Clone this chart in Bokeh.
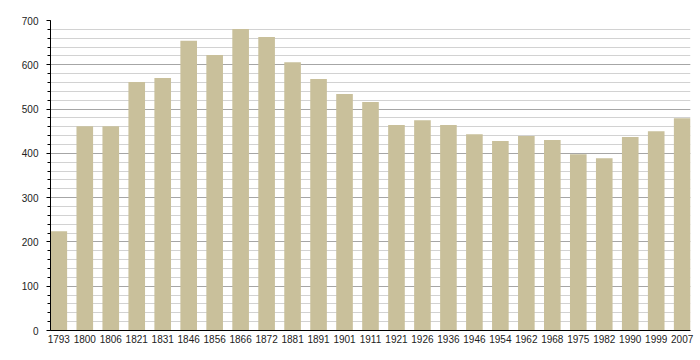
from bokeh.plotting import figure
from bokeh.models import Range1d, FixedTicker, SingleIntervalTicker, ColumnDataSource
from bokeh.embed import file_html
from bokeh.resources import INLINE

years = ["1793", "1800", "1806", "1821", "1831", "1846", "1856", "1866", "1872", "1881",
         "1891", "1901", "1911", "1921", "1926", "1936", "1946", "1954", "1962", "1968",
         "1975", "1982", "1990", "1999", "2007"]
population = [224, 461, 461, 561, 570, 654, 622, 681, 663, 606,
              568, 534, 516, 464, 475, 464, 443, 428, 439, 430,
              398, 389, 437, 450, 479]

idx = list(range(len(years)))
src = ColumnDataSource(dict(x=idx, top=population))

bar_w = 0.64
p = figure(width=700, height=360, output_backend="svg", toolbar_location=None,
           x_range=Range1d(-bar_w / 2, len(years) - 1 + bar_w / 2),
           y_range=Range1d(0, 700),
           min_border_left=50, min_border_right=10, min_border_top=20, min_border_bottom=30)

p.vbar(x="x", top="top", width=bar_w, bottom=0, source=src,
       fill_color="#c9c09b", line_color=None)

p.outline_line_color = None
p.background_fill_color = "white"
p.border_fill_color = "white"

# x axis
p.xaxis.ticker = FixedTicker(ticks=idx)
p.xaxis.major_label_overrides = {i: y for i, y in zip(idx, years)}
p.xaxis.major_tick_line_color = None
p.xaxis.minor_tick_line_color = None
p.xaxis.major_tick_out = 0
p.xaxis.major_label_standoff = 4
p.xaxis.axis_line_color = "black"
p.xgrid.grid_line_color = None

# y axis
p.yaxis.ticker = SingleIntervalTicker(interval=100, num_minor_ticks=5)
p.yaxis.major_tick_out = 4
p.yaxis.major_tick_in = 0
p.yaxis.minor_tick_out = 3
p.yaxis.minor_tick_in = 0
p.yaxis.major_tick_line_color = "black"
p.yaxis.minor_tick_line_color = "black"
p.yaxis.axis_line_color = "black"
p.yaxis.major_label_standoff = 8

for ax in (p.xaxis, p.yaxis):
    ax.major_label_text_font = "Liberation Sans"
    ax.major_label_text_font_size = "10px"
    ax.major_label_text_color = "#222222"

p.ygrid.grid_line_color = "#a6a6a6"
p.ygrid.grid_line_width = 1
p.ygrid.minor_grid_line_color = "#d2d2d2"
p.ygrid.minor_grid_line_width = 1

open("out.html", "w").write(file_html(p, INLINE))
